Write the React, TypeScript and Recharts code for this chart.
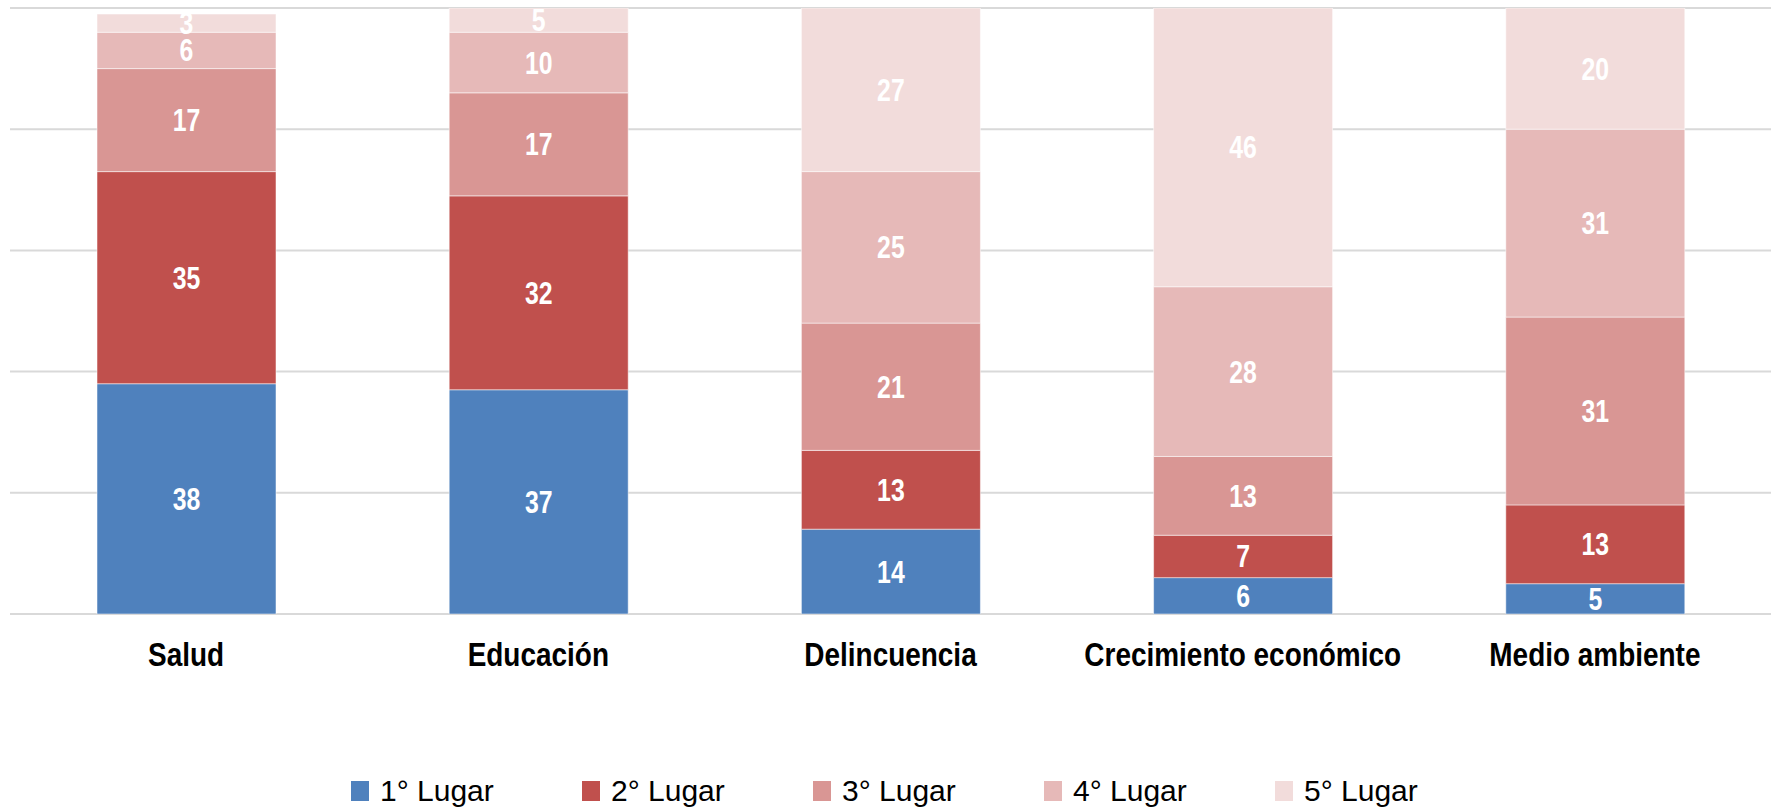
import React from "react";
import { BarChart, Bar, XAxis, YAxis, CartesianGrid, Legend, LabelList } from "recharts";

const categories = ["Salud", "Educación", "Delincuencia", "Crecimiento económico", "Medio ambiente"];
const lugar1 = [38, 37, 14, 6, 5];
const lugar2 = [35, 32, 13, 7, 13];
const lugar3 = [17, 17, 21, 13, 31];
const lugar4 = [6, 10, 25, 28, 31];
const lugar5 = [3, 5, 27, 46, 20];
const seriesNames = ["1° Lugar", "2° Lugar", "3° Lugar", "4° Lugar", "5° Lugar"];
const seriesKeys = ["l1", "l2", "l3", "l4", "l5"];
const seriesColors = ["#4F81BD", "#C0504D", "#D99694", "#E6B9B8", "#F2DCDB"];
const yTicks = [0, 20, 40, 60, 80, 100];

const data = categories.map((c, i) => ({
  name: c,
  l1: lugar1[i],
  l2: lugar2[i],
  l3: lugar3[i],
  l4: lugar4[i],
  l5: lugar5[i],
}));

const SANS = "'Liberation Sans', Arial, sans-serif";

const CatTick = (props: any) => {
  const { x, y, payload } = props;
  return (
    <text
      transform={`translate(${x},${y + 52}) scale(0.86,1)`}
      x={0}
      y={0}
      textAnchor="middle"
      fontFamily={SANS}
      fontWeight="bold"
      fontSize={32.5}
      fill="#000"
    >
      {payload.value}
    </text>
  );
};

const ValueLabel = (props: any) => {
  const { x, y, width, height, value } = props;
  const cx = Number(x) + Number(width) / 2;
  const cy = Number(y) + Number(height) / 2;
  return (
    <text
      transform={`translate(${cx},${cy + 11}) scale(0.8,1)`}
      x={0}
      y={0}
      textAnchor="middle"
      fontFamily={SANS}
      fontWeight="bold"
      fontSize={31}
      fill="#ffffff"
    >
      {value}
    </text>
  );
};

const LegendContent = (props: any) => {
  const payload = props.payload || [];
  return (
    <div style={{ display: "flex", flexDirection: "row", paddingLeft: 351 }}>
      {payload.map((p: any, i: number) => (
        <div key={i} style={{ width: 231, display: "flex", alignItems: "center", height: 40 }}>
          <div style={{ width: 18, height: 20, background: p.color, marginRight: 11 }} />
          <span style={{ fontFamily: SANS, fontSize: 30, color: "#000", lineHeight: "40px" }}>{p.value}</span>
        </div>
      ))}
    </div>
  );
};

export default function App() {
  return (
    <div style={{ position: "absolute", left: 0, top: 0, width: 1771, height: 812, background: "#fff" }}>
      <BarChart
        width={1771}
        height={812}
        data={data}
        margin={{ top: 8, right: 0, left: 10, bottom: 157 }}
        barSize={179}
      >
        <CartesianGrid vertical={false} stroke="#d9d9d9" strokeWidth={2} />
        <YAxis hide domain={[0, 100]} ticks={yTicks} allowDataOverflow type="number" />
        <XAxis
          dataKey="name"
          axisLine={false}
          tickLine={false}
          tickSize={0}
          tickMargin={0}
          tick={<CatTick />}
          interval={0}
          height={1}
        />
        <Legend
          content={<LegendContent />}
          wrapperStyle={{ left: 0, top: 771, width: 1771, height: 40 }}
        />
        {seriesKeys.map((k, i) => (
          <Bar
            key={k}
            dataKey={k}
            name={seriesNames[i]}
            stackId="a"
            fill={seriesColors[i]}
            stroke="#ffffff"
            strokeOpacity={0.5}
            strokeWidth={1}
            isAnimationActive={false}
          >
            <LabelList dataKey={k} content={<ValueLabel />} />
          </Bar>
        ))}
      </BarChart>
    </div>
  );
}
